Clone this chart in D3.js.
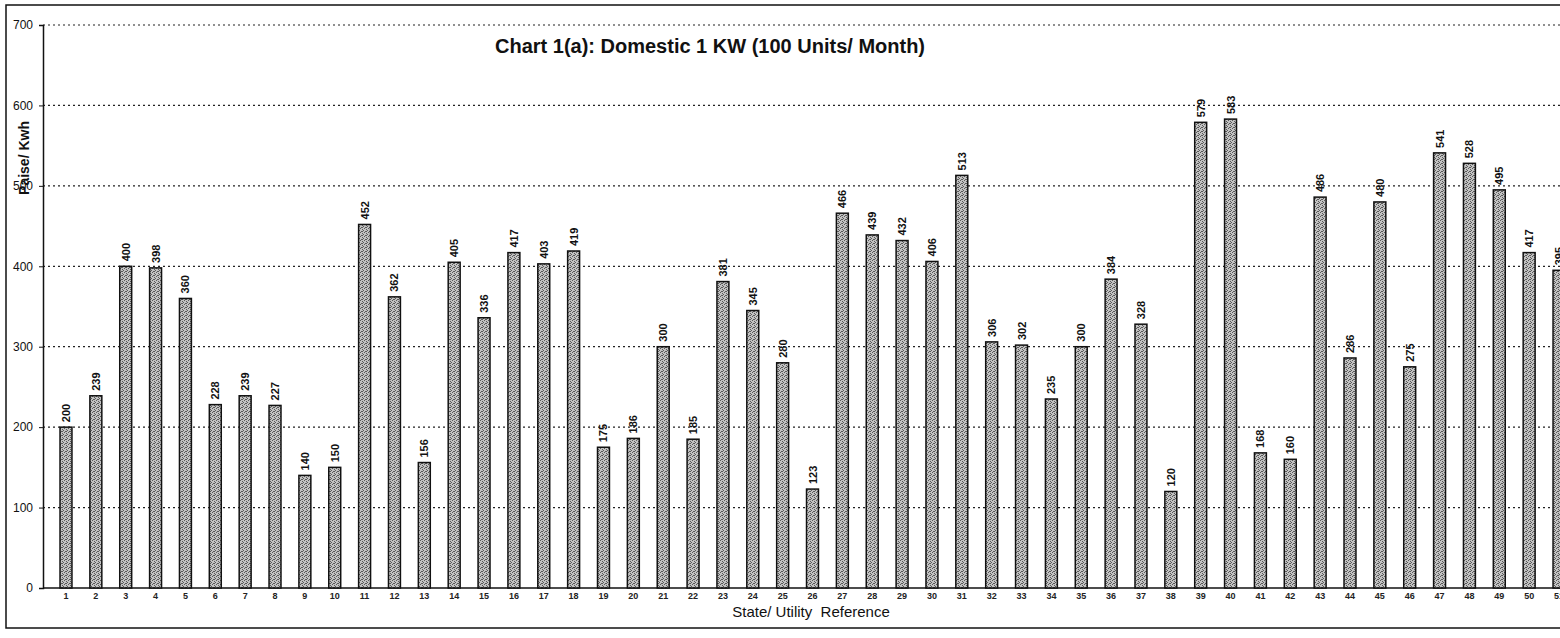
<!DOCTYPE html>
<html>
<head>
<meta charset="utf-8">
<script src="https://cdn.jsdelivr.net/npm/d3@7"></script>
<style>
  html, body { margin: 0; padding: 0; background: #fff; overflow: hidden; }
  svg { display: block; font-family: "Liberation Sans", Arial, sans-serif; }
</style>
</head>
<body>
<div id="chart"></div>
<script>
// values (State/ Utility reference 1..51)
const refs = d3.range(1, 52);
const paise = [200, 239, 400, 398, 360, 228, 239, 227, 140, 150,
               452, 362, 156, 405, 336, 417, 403, 419, 175, 186,
               300, 185, 381, 345, 280, 123, 466, 439, 432, 406,
               513, 306, 302, 235, 300, 384, 328, 120, 579, 583,
               168, 160, 486, 286, 480, 275, 541, 528, 495, 417,
               395];
const yTicks = [0, 100, 200, 300, 400, 500, 600, 700];

const W = 1560, H = 638;
const margin = {top: 25, left: 43, bottom: 50};
const plotBottom = H - margin.bottom;

const svg = d3.select("#chart")
  .append("svg")
  .attr("width", W)
  .attr("height", H);

// stippled grey fill like the printed bars
const defs = svg.append("defs");
const pat = defs.append("pattern")
  .attr("id", "stipple")
  .attr("width", 4).attr("height", 4)
  .attr("patternUnits", "userSpaceOnUse");
pat.append("rect").attr("width", 4).attr("height", 4).attr("fill", "#c2c2c2");
[[0, 0], [2, 1], [1, 3], [3, 2], [2, 3]].forEach(function(p) {
  pat.append("rect").attr("x", p[0]).attr("y", p[1])
    .attr("width", 1).attr("height", 1).attr("fill", "#5a5a5a");
});

// outer frame
svg.append("rect")
  .attr("x", 6).attr("y", 5)
  .attr("width", W + 20).attr("height", 623)
  .attr("fill", "none")
  .attr("stroke", "#111")
  .attr("stroke-width", 1.5);

const x = d3.scaleBand()
  .domain(refs)
  .range([margin.left, 1582])
  .paddingInner(0.6)
  .paddingOuter(0.57);

const y = d3.scaleLinear()
  .domain([0, 700])
  .range([plotBottom, margin.top]);

// dotted gridlines
svg.append("g")
  .selectAll("line")
  .data(yTicks.slice(1))
  .enter()
  .append("line")
  .attr("x1", margin.left)
  .attr("x2", W)
  .attr("y1", function(d) { return y(d); })
  .attr("y2", function(d) { return y(d); })
  .attr("stroke", "#222")
  .attr("stroke-width", 1.2)
  .attr("stroke-dasharray", "2,3");

// y axis
const yAxis = svg.append("g")
  .attr("transform", "translate(" + margin.left + ",0)")
  .call(d3.axisLeft(y).tickValues(yTicks).tickSize(4).tickPadding(6));
yAxis.select(".domain").attr("stroke", "#111").attr("stroke-width", 1.5);
yAxis.selectAll(".tick line").attr("stroke", "#111");
yAxis.selectAll("text")
  .attr("font-size", 12)
  .attr("fill", "#111")
  .attr("font-family", "'Liberation Sans', Arial, sans-serif");

// x axis
const xAxis = svg.append("g")
  .attr("transform", "translate(0," + plotBottom + ")")
  .call(d3.axisBottom(x).tickSize(0).tickPadding(5));
xAxis.select(".domain").attr("stroke", "#111").attr("stroke-width", 1.5)
  .attr("d", "M" + margin.left + ",0H" + W);
xAxis.selectAll("text")
  .attr("font-size", 9)
  .attr("font-weight", "bold")
  .attr("fill", "#222")
  .attr("font-family", "'Liberation Sans', Arial, sans-serif");

// bars
svg.append("g")
  .selectAll("rect")
  .data(paise)
  .enter()
  .append("rect")
  .attr("x", function(d, i) { return x(refs[i]); })
  .attr("y", function(d) { return y(d); })
  .attr("width", x.bandwidth())
  .attr("height", function(d) { return plotBottom - y(d); })
  .attr("fill", "url(#stipple)")
  .attr("stroke", "#111")
  .attr("stroke-width", 1.5);

// value labels, rotated
svg.append("g")
  .selectAll("text")
  .data(paise)
  .enter()
  .append("text")
  .attr("transform", function(d, i) {
    return "translate(" + (x(refs[i]) + x.bandwidth() / 2 + 4) + "," + (y(d) - 5) + ") rotate(-90)";
  })
  .attr("font-size", 11)
  .attr("font-weight", "bold")
  .attr("fill", "#111")
  .text(function(d) { return d; });

// title
svg.append("text")
  .attr("x", 710).attr("y", 53)
  .attr("text-anchor", "middle")
  .attr("font-size", 20)
  .attr("font-weight", "bold")
  .attr("fill", "#111")
  .text("Chart 1(a): Domestic 1 KW (100 Units/ Month)");

// axis titles
svg.append("text")
  .attr("transform", "translate(29,158) rotate(-90)")
  .attr("text-anchor", "middle")
  .attr("font-size", 14)
  .attr("font-weight", "bold")
  .attr("fill", "#111")
  .text("Paise/ Kwh");

svg.append("text")
  .attr("x", 811).attr("y", 617)
  .attr("text-anchor", "middle")
  .attr("font-size", 15)
  .attr("fill", "#111")
  .attr("xml:space", "preserve")
  .style("white-space", "pre")
  .text("State/ Utility  Reference");
</script>
</body>
</html>
